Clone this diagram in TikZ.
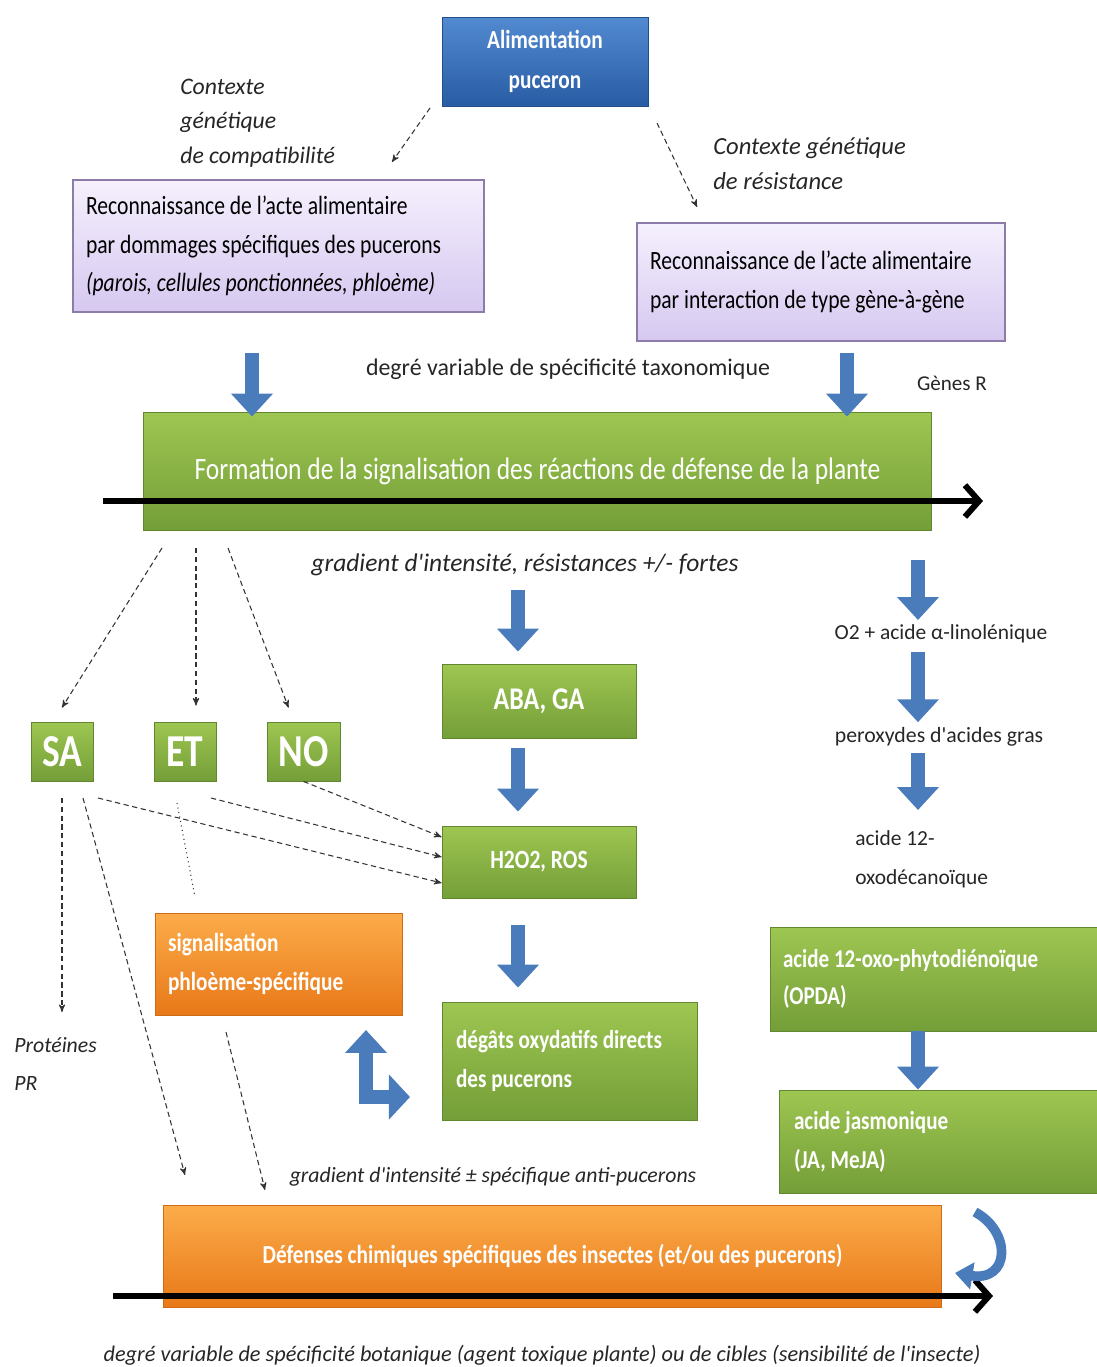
\documentclass[tikz,border=0pt]{standalone}
\usepackage{fontspec}
\setmainfont[FakeStretch=0.82]{Carlito}
\newfontfamily\notefont{Carlito}
\usepackage{tikz}
\usetikzlibrary{positioning, arrows, arrows.meta}
\definecolor{grtop}{RGB}{158,198,82}
\definecolor{grbot}{RGB}{116,158,56}
\definecolor{ortop}{RGB}{252,172,74}
\definecolor{orbot}{RGB}{232,120,24}
\definecolor{bltop}{RGB}{82,138,208}
\definecolor{blbot}{RGB}{40,92,164}
\definecolor{lltop}{RGB}{245,240,253}
\definecolor{llbot}{RGB}{214,200,240}
\definecolor{llline}{RGB}{140,124,170}
\definecolor{arrblue}{RGB}{74,124,188}

\begin{document}
\begin{tikzpicture}[x=0.02cm, y=-0.02cm,
    greenbox/.style={top color=grtop, bottom color=grbot, draw=grbot!85!black, line width=0.5pt, text=white, font=\bfseries, inner sep=0pt},
    orangebox/.style={top color=ortop, bottom color=orbot, draw=orbot!90!black, line width=0.5pt, text=white, font=\bfseries, inner sep=0pt},
    bluebox/.style={top color=bltop, bottom color=blbot, draw=blbot!85!black, line width=0.5pt, text=white, inner sep=0pt},
    lilacbox/.style={top color=lltop, bottom color=llbot, draw=llline, line width=1pt, text=black, inner ysep=0pt},
    note/.style={text=black!85, inner sep=0pt},
    bluearr/.style={draw=arrblue, line width=8.5pt, -{Triangle[width=23pt,length=13pt]}},
    dashlink/.style={draw=black!80, line width=0.6pt, dash pattern=on 3pt off 2pt, ->, >=stealth'},
    timearr/.style={draw=black, line width=3.4pt, -{Straight Barb[length=8pt,width=18pt]}}]

\useasboundingbox (0,0) rectangle (1097,1367);

% top part
\node[bluebox, minimum width=4.12cm, minimum height=1.78cm, align=center,
      font=\bfseries\fontsize{14.8}{22.7}\selectfont] (aliment) at (545,61.5) {Alimentation\\puceron};

\node[note, anchor=west, align=flush left, font=\notefont\itshape\fontsize{13.5}{19.8}\selectfont] (ctxL) at (180,123)
    {Contexte\\génétique\\de compatibilité};
\node[note, anchor=west, align=flush left, font=\notefont\itshape\fontsize{14}{19.8}\selectfont] (ctxR) at (713,163.5)
    {Contexte génétique\\de résistance};

\node[lilacbox, minimum height=2.64cm, text width=7.70cm, inner xsep=0.26cm, align=flush left,
      font=\fontsize{15}{21.8}\selectfont] (recL) at (278.5,246)
    {Reconnaissance de l'acte alimentaire\\par dommages spécifiques des pucerons\\\textit{(parois, cellules ponctionnées, phloème)}};
\node[lilacbox, minimum height=2.36cm, text width=6.84cm, inner xsep=0.26cm, align=flush left,
      font=\fontsize{15}{22.6}\selectfont] (recR) at (821,282)
    {Reconnaissance de l'acte alimentaire\\par interaction de type gène-à-gène};

\coordinate (d1s) at (430,108);
\coordinate (d1e) at (392,162);
\coordinate (d2s) at (657,123);
\coordinate (d2e) at (697,207);
\draw[dashlink] (d1s) -- (d1e);
\draw[dashlink] (d2s) -- (d2e);

\node[note, font=\notefont\fontsize{13.6}{15}\selectfont] (taxo) at (568,369) {degré variable de spécificité taxonomique};
\node[note, font=\notefont\fontsize{12}{15}\selectfont] (genesR) at (952,383) {Gènes R};

% signalisation
\node[greenbox, minimum width=15.78cm, minimum height=2.36cm, font=\fontsize{17.7}{20}\selectfont] (signal) at (537.5,471)
    {Formation de la signalisation des réactions de défense de la plante};
\coordinate (b1) at (252,353);
\coordinate (b2) at (847,353);
\draw[bluearr] (b1) -- ([yshift=-0.1cm]b1 |- signal.north);
\draw[bluearr] (b2) -- ([yshift=-0.1cm]b2 |- signal.north);
\coordinate (sigL) at (103,501);
\coordinate (sigR) at (983,501);
\draw[timearr] (sigL) -- (sigR);

\node[note, font=\notefont\itshape\fontsize{14.5}{16}\selectfont] (gradA) at (525,565) {gradient d'intensité, résistances +/- fortes};

% SA, ET, NO
\node[greenbox, minimum width=1.24cm, minimum height=1.18cm, font=\bfseries\fontsize{26}{30}\selectfont] (SA) at (62,751.5) {SA};
\node[greenbox, minimum width=1.24cm, minimum height=1.18cm, font=\bfseries\fontsize{26}{30}\selectfont] (ET) at (185,751.5) {ET};
\node[greenbox, minimum width=1.46cm, minimum height=1.18cm, font=\bfseries\fontsize{26}{30}\selectfont] (NO) at (303.5,751.5) {NO};

\coordinate (s1) at (162,548);
\coordinate (s2) at (196,548);
\coordinate (s3) at (228,548);
\draw[dashlink] (s1) -- ([yshift=0.28cm]SA.north);
\draw[dashlink] (s2) -- ([yshift=0.32cm]ET.north -| s2);
\draw[dashlink] (s3) -- ([xshift=-0.3cm, yshift=0.28cm]NO.north);

% central column
\node[greenbox, minimum width=3.88cm, minimum height=1.48cm, font=\bfseries\fontsize{18}{20}\selectfont] (aba) at (539,701) {ABA, GA};
\node[greenbox, minimum width=3.88cm, minimum height=1.44cm, font=\bfseries\fontsize{15}{17}\selectfont] (ros) at (539,862) {H2O2, ROS};
\node[greenbox, minimum height=2.36cm, text width=4.54cm, inner xsep=0.28cm, align=flush left,
      font=\bfseries\fontsize{14.7}{22.1}\selectfont] (degats) at (569.5,1061) {dégâts oxydatifs directs\\des pucerons};

\coordinate (c1) at (518,590);
\draw[bluearr] (c1) -- ([yshift=0.24cm]aba.north -| c1);
\draw[bluearr, shorten <=0.2cm, shorten >=0.28cm] (aba.south -| c1) -- (ros.north -| c1);
\draw[bluearr, shorten <=0.54cm, shorten >=0.28cm] (ros.south -| c1) -- (degats.north -| c1);

\draw[dashlink] (NO.south) -- ([yshift=0.5cm]ros.west);
\coordinate (e1) at (211,798);
\coordinate (e2) at (98,798);
\draw[dashlink] (e1) -- ([yshift=0.1cm]ros.west);
\draw[dashlink] (e2) -- ([yshift=-0.42cm]ros.west);
\coordinate (e3) at (177,803);
\coordinate (e4) at (195,897);
\draw[draw=black!80, line width=0.6pt, dotted] (e3) -- (e4);

% phloem
\node[orangebox, minimum height=2.04cm, text width=4.42cm, inner xsep=0.26cm, align=flush left,
      font=\bfseries\fontsize{14.8}{22.1}\selectfont] (phloeme) at (278.5,964) {signalisation\\phloème-spécifique};
\coordinate (lu) at (366,1030);
\coordinate (lr) at (410,1097);
\draw[bluearr, line join=miter, {Triangle[width=23pt,length=13pt]}-{Triangle[width=25pt,length=12pt]}] (lu) |- (lr);

\coordinate (f1) at (62,798);
\coordinate (f2) at (83,798);
\coordinate (f3) at (185,1175);
\coordinate (f4) at (226,1032);
\coordinate (f5) at (265,1190);
\draw[dashlink] (f1) -- (f1 |- 0,1012);
\draw[dashlink] (f2) -- (f3);
\draw[dashlink] (f4) -- (f5);

\node[note, anchor=west, align=flush left, font=\notefont\itshape\fontsize{12.4}{21.5}\selectfont] (prot) at (14,1064) {Protéines\\PR};

% right column
\coordinate (r1) at (918,560);
\draw[bluearr] (r1) -- (918,620);
\node[note, font=\notefont\fontsize{12.2}{14}\selectfont] (o2) at (941,634) {O2 + acide α-linolénique};
\node[note, font=\notefont\fontsize{12.4}{14}\selectfont] (perox) at (939,737) {peroxydes d'acides gras};
\draw[bluearr, shorten <=0.16cm, shorten >=0.1cm] (o2.south -| r1) -- (perox.north -| r1);
\coordinate (r3) at (918,810);
\draw[bluearr, shorten <=0.12cm] (perox.south -| r1) -- (r3);
\node[note, anchor=west, align=flush left, font=\notefont\fontsize{12.2}{22}\selectfont] (oxo) at (855,859.5) {acide 12-\\oxodécanoïque};

\node[greenbox, minimum height=2.08cm, text width=6.02cm, inner xsep=0.26cm, align=flush left,
      font=\bfseries\fontsize{14.6}{21.5}\selectfont] (opda) at (933.5,979) {acide 12-oxo-phytodiénoïque\\(OPDA)};
\node[greenbox, minimum height=2.06cm, text width=5.76cm, inner xsep=0.30cm, align=flush left,
      font=\bfseries\fontsize{14.7}{22.1}\selectfont] (ja) at (938,1141.5) {acide jasmonique\\(JA, MeJA)};
\draw[bluearr] (opda.south -| r1) -- (ja.north -| r1);

% bottom
\node[note, font=\notefont\itshape\fontsize{12.4}{14}\selectfont] (gradB) at (493,1177) {gradient d'intensité ± spécifique anti-pucerons};
\node[orangebox, minimum width=15.58cm, minimum height=2.04cm, font=\bfseries\fontsize{14.8}{17}\selectfont] (defense) at (552.5,1256)
    {Défenses chimiques spécifiques des insectes (et/ou des pucerons)};
\coordinate (defL) at (113,1296);
\coordinate (defR) at (993,1296);
\draw[timearr] (defL) -- (defR);
\coordinate (k1) at (975,1212);
\coordinate (k2) at (955,1273);
\draw[draw=arrblue, line width=5.5pt, -{Triangle[width=15pt,length=10pt]}] (k1) .. controls (1012,1232) and (1010,1282) .. (k2);

\node[note, font=\notefont\itshape\fontsize{12.7}{14}\selectfont] (botnote) at (542,1355)
    {degré variable de spécificité botanique (agent toxique plante) ou de cibles (sensibilité de l'insecte)};

\end{tikzpicture}
\end{document}
